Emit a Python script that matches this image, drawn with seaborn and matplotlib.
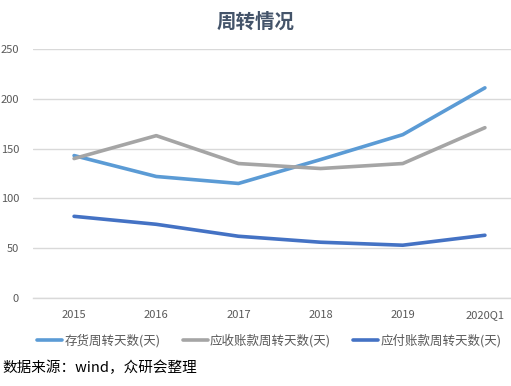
import matplotlib
matplotlib.use("Agg")
import matplotlib.pyplot as plt
import seaborn as sns
import pandas as pd
from matplotlib.ticker import FixedLocator
from matplotlib.lines import Line2D

categories = ["2015", "2016", "2017", "2018", "2019", "2020Q1"]
inventory_days = [143, 122, 115, 139, 164, 211]
receivable_days = [140, 163, 135, 130, 135, 171]
payable_days = [82, 74, 62, 56, 53, 63]
series_names = ["存货周转天数(天)", "应收账款周转天数(天)", "应付账款周转天数(天)"]
colors = ["#5B9BD5", "#A5A5A5", "#4472C4"]

rows = []
for name, vals in zip(series_names, [inventory_days, receivable_days, payable_days]):
    for c, v in zip(categories, vals):
        rows.append({"年份": c, "天数": v, "指标": name})
df = pd.DataFrame(rows)

sns.set_theme(style="white")
plt.rcParams['font.family'] = ['Noto Sans CJK SC', 'DejaVu Sans']

fig = plt.figure(figsize=(5.11, 3.86), dpi=100)
ax = fig.add_axes([33/511, 88/386, 493/511, 249/386])

sns.lineplot(data=df, x="年份", y="天数", hue="指标", palette=colors,
             linewidth=2.6, ax=ax, legend=False, sort=False)

ax.set_xlim(-0.5, 5.5)
ax.set_ylim(0, 250)
ax.set_yticks([0, 50, 100, 150, 200, 250])
ax.yaxis.grid(True, color="#D9D9D9", linewidth=1)
ax.set_axisbelow(True)
for s in ["top", "right", "left"]:
    ax.spines[s].set_visible(False)
ax.spines["bottom"].set_color("#D9D9D9")
ax.spines["bottom"].set_linewidth(1)
ax.set_xlabel("")
ax.set_ylabel("")
ax.tick_params(axis="y", length=0, labelsize=8, labelcolor="#595959", pad=10)
ax.tick_params(axis="x", which="major", length=0, labelsize=8, labelcolor="#595959", pad=9)
ax.xaxis.set_minor_locator(FixedLocator([i - 0.5 for i in range(7)]))
ax.tick_params(axis="x", which="minor", length=4, color="#D9D9D9", width=1)

fig.text(0.5, 0.943, "周转情况", ha="center", va="center", fontsize=14,
         fontweight="bold", color="#44546A")

handles = [Line2D([0], [0], color=c, linewidth=2.6) for c in colors]
fig.legend(handles, series_names, loc="center", bbox_to_anchor=(0.527, 0.118),
           ncol=3, frameon=False, fontsize=9, labelcolor="#595959",
           handlelength=2.0, handletextpad=0.15, columnspacing=1.8)

fig.text(0.004, 0.046, "数据来源：wind，众研会整理", ha="left", va="center",
         fontsize=10.5, color="#000000")

fig.savefig("out.png", dpi=100)
